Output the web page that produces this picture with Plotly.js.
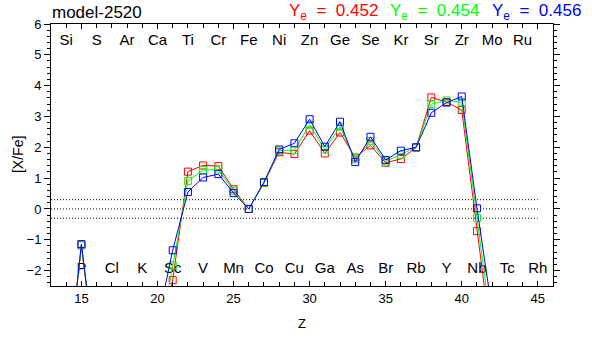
<!DOCTYPE html>
<html><head><meta charset="utf-8">
<script src="https://cdn.plot.ly/plotly-3.0.1.min.js"></script>
<style>html,body{margin:0;padding:0;background:#fff}</style>
</head><body><div id="chart" style="width:592px;height:337px"></div>
<script>
// ---- data ----
const Z = [14,15,16,17,18,19,20,21,22,23,24,25,26,27,28,29,30,31,32,33,34,35,36,37,38,39,40,41,42];
const xFe_452 = [-5.7,-1.18,-5.2,-6.5,-7.0,-6.2,-5.0,-2.31,1.21,1.41,1.39,0.64,0,0.84,1.84,1.78,2.54,1.80,2.48,1.67,2.06,1.50,1.62,1.99,3.62,3.47,3.21,-0.72,-4.5];
const xFe_454 = [-5.7,-1.16,-5.2,-6.4,-6.9,-6.0,-4.6,-1.83,0.91,1.26,1.28,0.59,0,0.85,1.89,1.91,2.73,1.93,2.67,1.61,2.20,1.54,1.76,2.00,3.40,3.52,3.46,-0.29,-4.0];
const xFe_456 = [-5.7,-1.14,-5.2,-6.3,-6.8,-5.8,-3.7,-1.34,0.55,1.02,1.13,0.52,0,0.87,1.93,2.13,2.91,2.02,2.83,1.52,2.34,1.59,1.89,2.00,3.12,3.45,3.65,0.02,-3.3];
const seriesLabels = ['Y<sub>e</sub>\u00a0\u00a0=\u00a0\u00a00.452','Y<sub>e</sub>\u00a0\u00a0=\u00a0\u00a00.454','Y<sub>e</sub>\u00a0\u00a0=\u00a0\u00a00.456'];
const seriesColors = ['#ff0000','#00ff00','#0000ff'];
const modelName = 'model-2520';
const xTitle = 'Z';
const yTitle = '[X/Fe]';
const evenZ = [14,16,18,20,22,24,26,28,30,32,34,36,38,40,42,44];
const evenElements = ['Si','S','Ar','Ca','Ti','Cr','Fe','Ni','Zn','Ge','Se','Kr','Sr','Zr','Mo','Ru'];
const oddZ = [15,17,19,21,23,25,27,29,31,33,35,37,39,41,43,45];
const oddElements = ['P','Cl','K','Sc','V','Mn','Co','Cu','Ga','As','Br','Rb','Y','Nb','Tc','Rh'];
const refLevels = [0.3, 0, -0.3];
const refZ = [13, 45];

// ---- drawing ----
const FONT = 'Liberation Sans, Arial, Helvetica, sans-serif';
const traces = [];
traces.push({x: evenZ, y: evenZ.map(()=>5.45), mode:'text', text: evenElements,
  textfont:{family:FONT,size:15,color:'#000'}, hoverinfo:'skip', cliponaxis:false});
traces.push({x: oddZ, y: oddZ.map(()=>-1.95), mode:'text', text: oddElements,
  textfont:{family:FONT,size:15,color:'#000'}, hoverinfo:'skip', cliponaxis:false});
refLevels.forEach(v => traces.push({x: refZ, y: [v, v], mode:'lines',
  line:{color:'#000', width:1, dash:'1px,2px'}, hoverinfo:'skip'}));
[xFe_452, xFe_454, xFe_456].forEach((ys, i) => traces.push({
  x: Z, y: ys, mode:'lines+markers',
  line:{color: seriesColors[i], width:1},
  marker:{symbol:'square-open', size:7, color: seriesColors[i], line:{width:1, color: seriesColors[i]}}
}));

const legendX = [0.470, 0.672, 0.875];
const annotations = seriesLabels.map((t, i) => ({
  text: t, xref:'paper', yref:'paper', x: legendX[i], y: 1.047, xanchor:'left', yanchor:'middle',
  showarrow:false, font:{family:FONT, size:17, color: seriesColors[i]}
}));
annotations.push({text: yTitle, xref:'paper', yref:'paper', x: -0.0657, y: 0.5, xanchor:'center', yanchor:'middle',
  textangle:-90, showarrow:false, font:{family:FONT, size:14, color:'#000'}});

const layout = {
  width:592, height:337,
  margin:{l:51, r:39, t:24, b:51},
  paper_bgcolor:'#fff', plot_bgcolor:'#fff',
  showlegend:false,
  font:{family:FONT, size:13, color:'#000'},
  title:{text: modelName, x: 52/592, xanchor:'left', xref:'container', y: 1-12/337, yanchor:'middle', yref:'container',
    font:{family:FONT, size:17, color:'#000'}},
  xaxis:{range:[13,46], tick0:0, dtick:5, ticks:'inside', ticklen:5, tickwidth:1, tickcolor:'#000',
    minor:{dtick:1, ticks:'inside', ticklen:4, tickcolor:'#000'},
    showline:true, linecolor:'#000', linewidth:1, mirror:'ticks', showgrid:false, zeroline:false,
    tickfont:{family:FONT, size:13}, title:{text: xTitle, font:{family:FONT,size:13}, standoff:14}},
  yaxis:{range:[-2.5,6], tick0:0, dtick:1, ticks:'outside', ticklen:6, tickwidth:1, tickcolor:'#000',
    minor:{dtick:0.2, ticks:'outside', ticklen:3, tickcolor:'#000'},
    showline:true, linecolor:'#000', linewidth:1, mirror:'ticks', showgrid:false, zeroline:false,
    tickfont:{family:FONT, size:13}},
  annotations: annotations
};
Plotly.newPlot('chart', traces, layout, {displayModeBar:false, staticPlot:true});
</script></body></html>
